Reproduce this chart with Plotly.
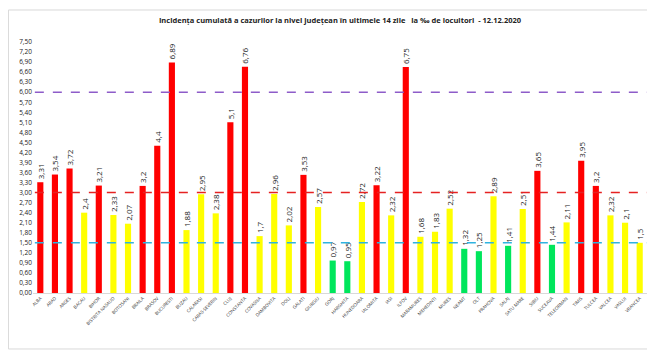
import plotly.graph_objects as go

counties = ["ALBA", "ARAD", "ARGES", "BACAU", "BIHOR", "BISTRITA NASAUD", "BOTOSANI", "BRAILA",
            "BRASOV", "BUCURESTI", "BUZAU", "CALARASI", "CARAS-SEVERIN", "CLUJ", "CONSTANTA",
            "COVASNA", "DAMBOVITA", "DOLJ", "GALATI", "GIURGIU", "GORJ", "HARGHITA", "HUNEDOARA",
            "IALOMITA", "IASI", "ILFOV", "MARAMURES", "MEHEDINTI", "MURES", "NEAMT", "OLT",
            "PRAHOVA", "SALAJ", "SATU MARE", "SIBIU", "SUCEAVA", "TELEORMAN", "TIMIS", "TULCEA",
            "VALCEA", "VASLUI", "VRANCEA"]
incidence = [3.31, 3.54, 3.72, 2.4, 3.21, 2.33, 2.07, 3.2, 4.4, 6.89, 1.88, 2.95, 2.38, 5.1, 6.76,
             1.7, 2.96, 2.02, 3.53, 2.57, 0.97, 0.95, 2.72, 3.22, 2.32, 6.75, 1.68, 1.83, 2.52, 1.32,
             1.25, 2.89, 1.41, 2.51, 3.65, 1.44, 2.11, 3.95, 3.2, 2.32, 2.1, 1.5]
thresholds = [6.0, 3.0, 1.5]
threshold_colors = ["#8E5CC9", "#E52222", "#2FB3E0"]
tick_values = [i * 0.3 for i in range(26)]
tick_labels = [f"{v:.2f}".replace(".", ",") for v in tick_values]

def bar_color(v):
    if v > 3.0:
        return "#FF0000"
    if v >= 1.5:
        return "#FFFF00"
    return "#00E65C"

colors = [bar_color(v) for v in incidence]
labels = [f"{v:g}".replace(".", ",") for v in incidence]

fig = go.Figure(go.Bar(
    x=counties, y=incidence, marker_color=colors, marker_line_width=0,
    text=labels, textposition="outside", textangle=-90, constraintext="none",
    textfont=dict(family="Open Sans, Arial", size=8, color="#222222"),
    cliponaxis=False,
))

shapes = [dict(type="rect", xref="paper", yref="paper", x0=-0.04, x1=1.0016, y0=-0.223, y1=1.1275,
               line=dict(color="#D9D9D9", width=1), layer="below")]
for t, c in zip(thresholds, threshold_colors):
    shapes.append(dict(type="line", xref="paper", yref="y", x0=0.003, x1=1.0, y0=t, y1=t,
                       line=dict(color=c, width=1.5, dash="dash")))

fig.update_layout(
    width=647, height=348,
    margin=dict(l=25, r=8, t=34, b=63),
    paper_bgcolor="white", plot_bgcolor="white",
    bargap=0.58,
    showlegend=False,
    shapes=shapes,
    title=dict(text="<b>Incidența cumulată a cazurilor la nivel județean în ultimele 14 zile   la ‰ de locuitori  - 12.12.2020</b>",
               x=0.5, xref="paper", y=0.965, yanchor="middle",
               font=dict(family="Open Sans, Arial", size=7.5, color="#222222")),
    xaxis=dict(tickangle=-45, tickfont=dict(family="Open Sans, Arial", size=4.5, color="#333333"),
               showgrid=False, showline=True, linecolor="#D9D9D9", ticks=""),
    yaxis=dict(range=[0, 7.5], tickvals=tick_values, ticktext=tick_labels,
               tickfont=dict(family="Open Sans, Arial", size=6.5, color="#222222"),
               showgrid=False, zeroline=False, showline=False, ticks=""),
)

fig.write_html("out.html")
